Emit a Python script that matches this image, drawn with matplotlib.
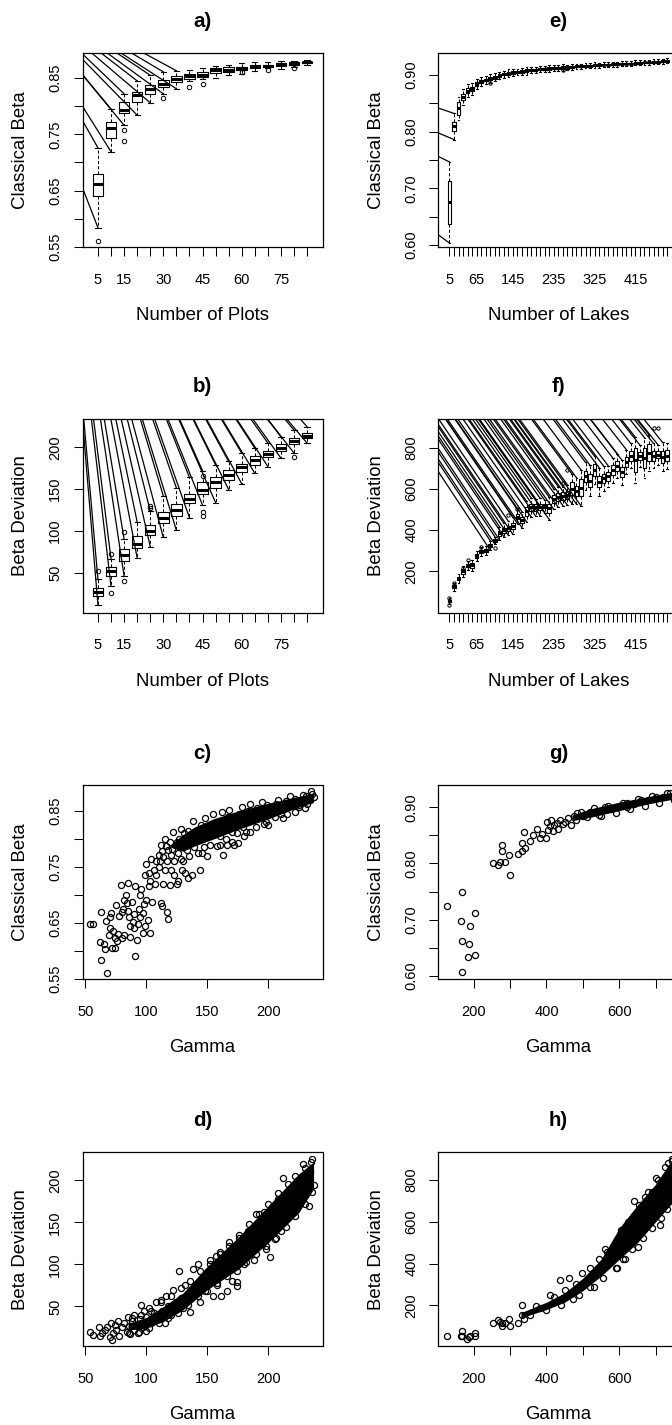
import matplotlib

matplotlib.use("Agg")
import matplotlib.pyplot as plt
import numpy as np

plt.rcParams["font.family"] = ["Liberation Sans", "DejaVu Sans"]

# ---- panel a: classical beta by number of plots (boxplots) ----
plots_n = [5, 10, 15, 20, 25, 30, 35, 40, 45, 50, 55, 60, 65, 70, 75, 80, 85]
plots_labels = ["5", "", "15", "", "", "30", "", "", "45", "", "", "60", "", "", "75", "", ""]
a_lo = [0.584, 0.719, 0.766, 0.784, 0.806, 0.822, 0.831, 0.844, 0.848, 0.850, 0.855, 0.858, 0.862, 0.867, 0.866, 0.870, 0.874]
a_q1 = [0.640, 0.744, 0.788, 0.807, 0.822, 0.834, 0.843, 0.849, 0.852, 0.859, 0.861, 0.864, 0.868, 0.869, 0.871, 0.873, 0.877]
a_med = [0.661, 0.762, 0.794, 0.819, 0.831, 0.840, 0.849, 0.854, 0.856, 0.864, 0.865, 0.867, 0.871, 0.872, 0.875, 0.876, 0.878]
a_q3 = [0.679, 0.771, 0.807, 0.825, 0.837, 0.847, 0.853, 0.858, 0.861, 0.867, 0.869, 0.870, 0.873, 0.874, 0.876, 0.878, 0.879]
a_hi = [0.726, 0.795, 0.822, 0.845, 0.855, 0.861, 0.863, 0.865, 0.868, 0.872, 0.874, 0.876, 0.878, 0.879, 0.880, 0.881, 0.882]
a_out = [[0.561], [], [0.758, 0.738], [], [], [0.815], [], [0.834], [0.840], [], [], [0.860], [], [0.865], [], [0.868], []]

# ---- panel b: beta deviation by number of plots ----
b_lo = [12, 34, 46.5, 68, 81.5, 92.5, 101, 116, 131, 134, 149.5, 156.5, 169, 177, 187, 193, 205]
b_q1 = [22, 46.5, 64, 80, 95, 109.5, 118, 133, 144.5, 151.5, 161.5, 171, 179, 188, 195.5, 203.5, 210.5]
b_med = [27, 52, 71, 85, 100, 116, 125, 138, 148.5, 158.5, 167, 176, 185, 192, 199.5, 207.5, 214]
b_q3 = [32, 57, 78, 94, 107.5, 123, 132, 144.5, 158.5, 165, 172.5, 180, 189, 195, 203.5, 210.5, 216.5]
b_hi = [42.5, 67, 90.5, 111, 124, 142, 151.5, 164, 172, 179, 183, 193, 199, 205, 212.5, 220.5, 224.5]
b_out = [[52], [73, 25.5], [99, 40], [], [130, 127], [], [], [], [166, 123, 118], [], [], [], [], [], [], [188], []]

# ---- panel e: classical beta by number of lakes ----
lakes_n = list(range(5, 495, 10))
lakes_shown = {5: "5", 65: "65", 145: "145", 235: "235", 325: "325", 415: "415"}
e_med = [0.675, 0.809, 0.841, 0.861, 0.872, 0.875, 0.884, 0.888, 0.891, 0.894,
         0.896, 0.899, 0.901, 0.903, 0.904, 0.905, 0.906, 0.907, 0.908, 0.909,
         0.910, 0.910, 0.911, 0.912, 0.912, 0.913, 0.913, 0.914, 0.915, 0.915,
         0.916, 0.916, 0.917, 0.917, 0.918, 0.918, 0.919, 0.919, 0.920, 0.920,
         0.920, 0.921, 0.921, 0.922, 0.922, 0.923, 0.923, 0.924, 0.925]
e_half = [0.0385, 0.008, 0.011, 0.0055, 0.004, 0.004, 0.0035, 0.003, 0.0025, 0.0025,
          0.0025, 0.002, 0.002, 0.0025, 0.002, 0.002, 0.002, 0.0025, 0.002, 0.002,
          0.002, 0.002, 0.0025, 0.002, 0.002, 0.003, 0.002, 0.002, 0.0015, 0.002,
          0.0015, 0.0015, 0.002, 0.0015, 0.0015, 0.0015, 0.0015, 0.0015, 0.0015, 0.0015,
          0.0015, 0.0015, 0.0015, 0.0015, 0.0015, 0.0015, 0.0015, 0.0015, 0.0015]
e_reach = [0.033, 0.015, 0.009, 0.009, 0.007, 0.006, 0.005, 0.005, 0.005, 0.005,
           0.004, 0.004, 0.004, 0.004, 0.004, 0.004, 0.004, 0.004, 0.003, 0.003,
           0.003, 0.003, 0.004, 0.003, 0.003, 0.004, 0.003, 0.003, 0.003, 0.003,
           0.003, 0.003, 0.003, 0.003, 0.003, 0.003, 0.003, 0.003, 0.003, 0.003,
           0.003, 0.003, 0.003, 0.003, 0.003, 0.003, 0.003, 0.003, 0.003]
e_out = {10: [0.886], 26: [0.908]}

# ---- panel f: beta deviation by number of lakes ----
f_med = [55, 125, 165, 200, 228, 228, 275, 296, 300, 325,
         350, 385, 400, 408, 420, 465, 450, 490, 510, 510,
         512, 515, 505, 550, 560, 565, 570, 600, 590, 605,
         660, 640, 690, 635, 650, 660, 690, 710, 680, 730,
         760, 740, 760, 750, 775, 760, 765, 755, 760]
f_half = [6, 8, 8, 12, 8, 10, 10, 8, 8, 8,
          6, 12, 12, 12, 16, 12, 14, 20, 18, 16,
          16, 10, 22, 20, 20, 18, 20, 32, 26, 42,
          28, 32, 28, 28, 24, 20, 24, 24, 24, 24,
          24, 60, 20, 50, 42, 24, 18, 30, 26]
f_reach = [8, 12, 12, 15, 12, 15, 15, 14, 14, 15,
           12, 20, 20, 22, 25, 22, 25, 30, 28, 26,
           26, 20, 32, 30, 30, 28, 30, 40, 38, 45,
           40, 42, 40, 40, 36, 32, 36, 36, 36, 36,
           36, 50, 32, 48, 45, 36, 30, 40, 36]
f_out = {1: [72, 37], 2: [144], 4: [218], 5: [256], 8: [320], 11: [314], 14: [472],
         16: [501], 26: [629], 27: [693], 46: [896], 47: [896]}

# ---- panel c: classical beta vs gamma (plots) ----
c_pts = [(54, 0.648), (56, 0.648), (62, 0.615), (63, 0.669), (63, 0.584), (65, 0.612), (66, 0.603),
         (67, 0.653), (68, 0.561), (69, 0.628), (70, 0.640), (70, 0.660), (71, 0.668), (72, 0.605),
         (73, 0.636), (74, 0.605), (74, 0.622), (75, 0.682), (76, 0.618), (77, 0.630), (78, 0.662),
         (79, 0.718), (80, 0.622), (80, 0.670), (81, 0.675), (82, 0.690), (82, 0.628), (83, 0.700),
         (84, 0.685), (85, 0.672), (85, 0.722), (86, 0.660), (87, 0.625), (87, 0.645), (88, 0.688),
         (89, 0.652), (90, 0.640), (90, 0.665), (91, 0.590), (91, 0.715), (92, 0.620), (93, 0.648),
         (94, 0.675), (95, 0.660), (95, 0.700), (96, 0.710), (97, 0.632), (97, 0.668), (98, 0.683),
         (99, 0.645), (99, 0.735), (100, 0.690), (100, 0.755), (101, 0.655), (102, 0.715), (102, 0.740),
         (103, 0.632), (103, 0.725), (104, 0.765), (105, 0.688), (106, 0.745), (107, 0.720), (108, 0.760),
         (108, 0.735), (110, 0.750), (112, 0.685), (113, 0.680), (114, 0.720), (115, 0.745), (117, 0.670),
         (118, 0.657), (119, 0.718), (120, 0.745), (123, 0.735), (125, 0.720), (126, 0.725), (129, 0.745),
         (132, 0.740), (134, 0.730), (137, 0.735), (144, 0.745), (146, 0.775), (150, 0.770), (163, 0.772),
         (166, 0.790), (170, 0.795), (175, 0.792), (180, 0.805), (196, 0.826), (210, 0.845), (225, 0.860),
         (112, 0.790), (115, 0.800), (118, 0.780), (122, 0.812), (125, 0.795), (128, 0.818), (130, 0.760),
         (135, 0.770), (138, 0.832), (142, 0.775), (148, 0.838), (152, 0.790), (155, 0.845), (158, 0.788),
         (162, 0.848), (165, 0.800), (168, 0.852), (172, 0.790), (174, 0.810), (178, 0.858), (182, 0.812),
         (185, 0.862), (190, 0.822), (195, 0.866), (198, 0.830), (205, 0.840), (208, 0.870), (215, 0.845),
         (218, 0.876), (225, 0.858), (228, 0.879), (232, 0.862), (235, 0.886), (237, 0.875),
         (110, 0.772), (111, 0.760), (113, 0.778), (114, 0.768), (116, 0.788), (117, 0.760), (119, 0.795),
         (120, 0.772), (121, 0.782), (123, 0.760), (124, 0.790), (126, 0.775), (127, 0.800), (128, 0.765),
         (130, 0.790), (131, 0.810), (133, 0.780), (134, 0.815), (136, 0.795), (139, 0.785), (141, 0.815),
         (143, 0.800), (145, 0.825), (147, 0.785), (149, 0.810), (153, 0.815), (157, 0.830), (160, 0.805),
         (164, 0.825), (167, 0.840), (170, 0.812), (173, 0.835), (176, 0.845), (179, 0.822), (183, 0.850),
         (187, 0.835), (191, 0.855), (194, 0.840), (199, 0.860), (202, 0.845), (206, 0.862), (211, 0.855),
         (214, 0.868), (219, 0.860), (222, 0.872), (227, 0.868), (231, 0.876), (234, 0.870), (236, 0.880),
         (160, 0.790), (185, 0.812), (200, 0.825), (212, 0.838), (222, 0.848), (230, 0.855)]
c_core_gamma = [120, 130, 140, 155, 175, 200, 220, 237]
c_core_lo = [0.785, 0.778, 0.788, 0.800, 0.817, 0.836, 0.853, 0.866]
c_core_hi = [0.790, 0.808, 0.822, 0.836, 0.850, 0.864, 0.874, 0.882]

# ---- panel d: beta deviation vs gamma (plots) ----
d_pts = [(54, 20), (56, 16), (61, 26), (62, 15), (64, 18), (66, 22), (68, 25), (70, 14), (71, 30),
         (72, 10), (73, 18), (74, 28), (75, 22), (77, 33), (78, 15), (80, 25), (82, 30), (84, 20),
         (85, 38), (86, 27), (87, 17), (88, 33), (90, 22), (90, 40), (92, 28), (93, 18), (95, 35),
         (96, 52), (97, 25), (98, 45), (100, 21), (100, 38), (102, 48), (104, 30), (106, 42), (108, 55),
         (110, 35), (112, 58), (113, 45), (115, 30), (116, 62), (118, 50), (120, 40), (122, 70), (124, 55),
         (127, 92), (128, 60), (130, 48), (132, 75), (134, 65), (136, 43), (138, 95), (140, 70), (142, 100),
         (144, 55), (145, 82), (148, 68), (150, 90), (152, 105), (155, 62), (157, 110), (158, 75), (160, 115),
         (161, 63), (164, 95), (166, 68), (168, 127), (170, 80), (172, 100), (174, 74), (174, 79), (176, 132),
         (180, 100), (183, 140), (185, 115), (188, 105), (190, 160), (192, 125), (195, 145), (196, 162),
         (198, 118), (201, 109), (203, 168), (205, 130), (208, 178), (210, 140), (212, 203), (214, 155),
         (218, 190), (220, 165), (224, 200), (226, 175), (228, 220), (230, 185), (233, 170), (234, 210),
         (236, 225), (237, 195),
         (88, 36), (96, 40), (104, 45), (112, 55), (120, 62), (128, 72), (136, 80), (144, 92), (152, 100),
         (160, 112), (168, 122), (176, 135), (184, 148), (192, 160), (200, 172), (208, 185), (216, 196),
         (222, 205), (230, 215), (235, 222),
         (86, 19), (94, 20), (102, 24), (110, 30), (118, 36), (126, 42), (134, 52), (142, 62), (150, 68),
         (158, 78), (166, 86), (174, 92), (182, 103), (190, 112), (198, 122), (206, 132), (214, 145),
         (222, 158), (230, 172), (236, 186)]
d_core_gamma = [85, 100, 115, 130, 150, 175, 200, 225, 237]
d_core_lo = [22, 24, 33, 46, 70, 94, 126, 162, 190]
d_core_hi = [30, 37, 51, 66, 98, 132, 170, 208, 222]

# ---- panel g: classical beta vs gamma (lakes) ----
g_pts = [(127, 0.725), (168, 0.749), (164, 0.697), (191, 0.688), (205, 0.712), (167, 0.662), (188, 0.657),
         (184, 0.634), (205, 0.637), (168, 0.607), (252, 0.800), (268, 0.797), (272, 0.803), (277, 0.832),
         (277, 0.822), (286, 0.803), (297, 0.815), (301, 0.780), (321, 0.816), (334, 0.822), (338, 0.856),
         (334, 0.837), (342, 0.828), (356, 0.840), (363, 0.850), (373, 0.861), (381, 0.846), (388, 0.853),
         (398, 0.846), (402, 0.873), (405, 0.860), (410, 0.866), (412, 0.877), (418, 0.858), (422, 0.868),
         (428, 0.872), (432, 0.862), (438, 0.878), (445, 0.870), (452, 0.874), (460, 0.880), (468, 0.868),
         (475, 0.884), (485, 0.889), (500, 0.885), (520, 0.891), (545, 0.886), (560, 0.900), (580, 0.896),
         (600, 0.903), (620, 0.908), (640, 0.905), (660, 0.913), (680, 0.912), (700, 0.919), (720, 0.918),
         (740, 0.925), (755, 0.924),
         (480, 0.878), (495, 0.891), (510, 0.882), (530, 0.898), (550, 0.885), (570, 0.902), (590, 0.890),
         (610, 0.908), (630, 0.897), (650, 0.915), (670, 0.903), (690, 0.920), (710, 0.908), (730, 0.925),
         (750, 0.913), (760, 0.928), (540, 0.894), (620, 0.900)]
g_core_gamma = [470, 520, 560, 600, 640, 680, 720, 762]
g_core_lo = [0.876, 0.882, 0.888, 0.894, 0.900, 0.906, 0.911, 0.916]
g_core_hi = [0.886, 0.897, 0.903, 0.909, 0.914, 0.919, 0.924, 0.928]

# ---- panel h: beta deviation vs gamma (lakes) ----
h_pts = [(127, 52), (168, 76), (168, 52), (164, 55), (182, 39), (188, 48), (191, 55), (205, 68), (205, 52),
         (252, 116), (268, 132), (272, 120), (277, 116), (277, 100), (286, 116), (297, 135), (301, 100),
         (321, 116), (334, 200), (334, 155), (338, 135), (356, 155), (370, 195), (381, 187), (398, 179),
         (411, 251), (436, 323), (452, 275), (461, 330), (472, 230), (498, 354), (520, 290), (560, 470),
         (565, 455), (580, 466), (595, 380), (610, 420), (640, 697), (650, 480), (670, 720), (690, 740),
         (700, 810), (713, 585), (720, 760), (735, 880), (745, 890), (752, 700),
         (420, 240), (440, 200), (480, 300), (490, 250), (520, 380), (530, 290), (545, 420), (555, 330),
         (575, 460), (590, 380), (605, 560), (615, 420), (625, 600), (635, 470), (655, 680), (665, 520),
         (680, 740), (690, 570), (705, 800), (715, 620), (725, 860), (730, 660), (745, 900), (755, 720),
         (760, 905)]
h_core_gamma = [330, 400, 450, 500, 550, 600, 650, 700, 740, 765]
h_core_lo = [140, 180, 215, 270, 340, 420, 500, 600, 680, 720]
h_core_hi = [165, 215, 260, 330, 420, 570, 680, 780, 885, 910]

FW, FH = 672, 1425
AW, AH = 240, 194
COL_X = [82.5, 438.3]
ROW_TOP = [53.3, 418.5, 785.3, 1152.3]

fig = plt.figure(figsize=(FW / 100, FH / 100), dpi=100)


def make_ax(col, row, title, xlabel, ylabel):
    x0, top = COL_X[col], ROW_TOP[row]
    ax = fig.add_axes([x0 / FW, 1 - (top + AH) / FH, AW / FW, AH / FH])
    for s in ax.spines.values():
        s.set_linewidth(0.9)
    ax.tick_params(direction="out", length=6.5, width=0.75, labelsize=10.5)
    ax.tick_params(axis="x", pad=12)
    ax.tick_params(axis="y", pad=8, labelrotation=90)
    ax.text(0.5, 1 + 32 / AH, title, transform=ax.transAxes,
            ha="center", va="center", fontsize=14.8, fontweight="bold")
    ax.set_xlabel(xlabel, fontsize=13.4)
    ax.xaxis.set_label_coords(0.5, -60 / AH)
    ax.set_ylabel(ylabel, fontsize=13.4)
    ax.yaxis.label.set_va("center")
    ax.yaxis.set_label_coords(-62 / AW, 0.5)
    return ax


def set_yticks(ax, ticks, shown, fmt):
    ax.set_yticks(ticks)
    ax.set_yticklabels([fmt.format(t) if t in shown else "" for t in ticks], va="center")


def boxes(ax, lo, q1, med, q3, hi, out, fsize):
    stats = []
    for i in range(len(med)):
        stats.append(dict(whislo=lo[i], q1=q1[i], med=med[i], q3=q3[i],
                          whishi=hi[i], fliers=out[i]))
    pos = np.arange(1, len(med) + 1)
    ax.bxp(stats, positions=pos, widths=0.8, capwidths=0.4,
           boxprops=dict(lw=0.8, color="k"),
           medianprops=dict(lw=2.2, color="k", solid_capstyle="butt"),
           whiskerprops=dict(lw=0.75, ls=(0, (3, 2)), color="k"),
           capprops=dict(lw=0.8, color="k"),
           flierprops=dict(marker="o", mfc="none", mec="k", ms=fsize, mew=0.7))
    return pos


def fan_lines(ax, origin, ends):
    # stray whisker strokes of the source rendering, clipped to the frame
    for x, y in ends:
        ex, ey = ax.transLimits.transform((x, y))
        ax.plot([origin[0], ex], [origin[1], ey], color="k", lw=0.9,
                transform=ax.transAxes, clip_on=True)


def scatter(ax, pts, core_x, core_lo, core_hi):
    ax.fill_between(core_x, core_lo, core_hi, color="k", lw=0)
    xs = [p[0] for p in pts]
    ys = [p[1] for p in pts]
    ax.plot(xs, ys, "o", mfc="none", mec="k", ms=4.4, mew=0.9)


# a)
ax = make_ax(0, 0, "a)", "Number of Plots", "Classical Beta")
pos = boxes(ax, a_lo, a_q1, a_med, a_q3, a_hi, a_out, 3.2)
ax.set_xticks(pos)
ax.set_xticklabels(plots_labels)
ax.set_xlim(-0.18, 18.18)
ax.set_ylim(0.549, 0.894)
set_yticks(ax, [0.55, 0.60, 0.65, 0.70, 0.75, 0.80, 0.85], [0.55, 0.65, 0.75, 0.85], "{:.2f}")
ends = [(i + 1, a_hi[i]) for i in range(7)] + [(i + 1, a_lo[i]) for i in range(7)]
fan_lines(ax, (-0.344, 1.404), ends)

# b)
ax = make_ax(0, 1, "b)", "Number of Plots", "Beta Deviation")
pos = boxes(ax, b_lo, b_q1, b_med, b_q3, b_hi, b_out, 3.2)
ax.set_xticks(pos)
ax.set_xticklabels(plots_labels)
ax.set_xlim(-0.18, 18.18)
ax.set_ylim(2.8, 234.3)
set_yticks(ax, [50, 100, 150, 200], [50, 100, 150, 200], "{:d}")
ends = [(i + 1, b_hi[i]) for i in range(17)] + [(i + 1, b_lo[i]) for i in range(17)]
fan_lines(ax, (-0.094, 2.383), ends)

# c)
ax = make_ax(0, 2, "c)", "Gamma", "Classical Beta")
scatter(ax, c_pts, c_core_gamma, c_core_lo, c_core_hi)
ax.set_xlim(47.7, 244.3)
ax.set_ylim(0.549, 0.896)
ax.set_xticks([50, 100, 150, 200])
set_yticks(ax, [0.55, 0.60, 0.65, 0.70, 0.75, 0.80, 0.85], [0.55, 0.65, 0.75, 0.85], "{:.2f}")

# d)
ax = make_ax(0, 3, "d)", "Gamma", "Beta Deviation")
scatter(ax, d_pts, d_core_gamma, d_core_lo, d_core_hi)
ax.set_xlim(47.7, 244.3)
ax.set_ylim(2.6, 233.5)
ax.set_xticks([50, 100, 150, 200])
set_yticks(ax, [50, 100, 150, 200], [50, 100, 150, 200], "{:d}")

# e)
ax = make_ax(1, 0, "e)", "Number of Lakes", "Classical Beta")
e_q1 = [m - h for m, h in zip(e_med, e_half)]
e_q3 = [m + h for m, h in zip(e_med, e_half)]
e_lo = [q - r for q, r in zip(e_q1, e_reach)]
e_hi = [q + r for q, r in zip(e_q3, e_reach)]
e_fl = [e_out.get(i + 1, []) for i in range(len(e_med))]
pos = boxes(ax, e_lo, e_q1, e_med, e_q3, e_hi, e_fl, 2.4)
ax.set_xticks(pos)
ax.set_xticklabels([lakes_shown.get(n, "") for n in lakes_n])
ax.set_xlim(-1.46, 51.46)
ax.set_ylim(0.596, 0.938)
set_yticks(ax, [0.60, 0.65, 0.70, 0.75, 0.80, 0.85, 0.90], [0.60, 0.70, 0.80, 0.90], "{:.2f}")
ends = [(1, e_hi[0]), (1, e_lo[0]), (2, e_hi[1]), (2, e_lo[1])]
fan_lines(ax, (-1.343, 1.285), ends)

# f)
ax = make_ax(1, 1, "f)", "Number of Lakes", "Beta Deviation")
f_q1 = [m - h for m, h in zip(f_med, f_half)]
f_q3 = [m + h for m, h in zip(f_med, f_half)]
f_lo = [q - r for q, r in zip(f_q1, f_reach)]
f_hi = [q + r for q, r in zip(f_q3, f_reach)]
f_fl = [f_out.get(i + 1, []) for i in range(len(f_med))]
pos = boxes(ax, f_lo, f_q1, f_med, f_q3, f_hi, f_fl, 2.4)
ax.set_xticks(pos)
ax.set_xticklabels([lakes_shown.get(n, "") for n in lakes_n])
ax.set_xlim(-1.46, 51.46)
ax.set_ylim(0, 941)
set_yticks(ax, [200, 400, 600, 800], [200, 400, 600, 800], "{:d}")
ends = [(i + 1, f_hi[i]) for i in range(9, 48)] + [(i + 1, f_lo[i]) for i in range(9, 30)]
fan_lines(ax, (-4.74, 9.6), ends)

# g)
ax = make_ax(1, 2, "g)", "Gamma", "Classical Beta")
scatter(ax, g_pts, g_core_gamma, g_core_lo, g_core_hi)
ax.set_xlim(103, 762)
ax.set_ylim(0.594, 0.939)
ax.set_xticks([200, 300, 400, 500, 600, 700])
ax.set_xticklabels(["200", "", "400", "", "600", ""])
set_yticks(ax, [0.60, 0.65, 0.70, 0.75, 0.80, 0.85, 0.90], [0.60, 0.70, 0.80, 0.90], "{:.2f}")

# h)
ax = make_ax(1, 3, "h)", "Gamma", "Beta Deviation")
scatter(ax, h_pts, h_core_gamma, h_core_lo, h_core_hi)
ax.set_xlim(103, 762)
ax.set_ylim(4, 932)
ax.set_xticks([200, 300, 400, 500, 600, 700])
ax.set_xticklabels(["200", "", "400", "", "600", ""])
set_yticks(ax, [200, 400, 600, 800], [200, 400, 600, 800], "{:d}")

fig.savefig("out.png", dpi=100)
